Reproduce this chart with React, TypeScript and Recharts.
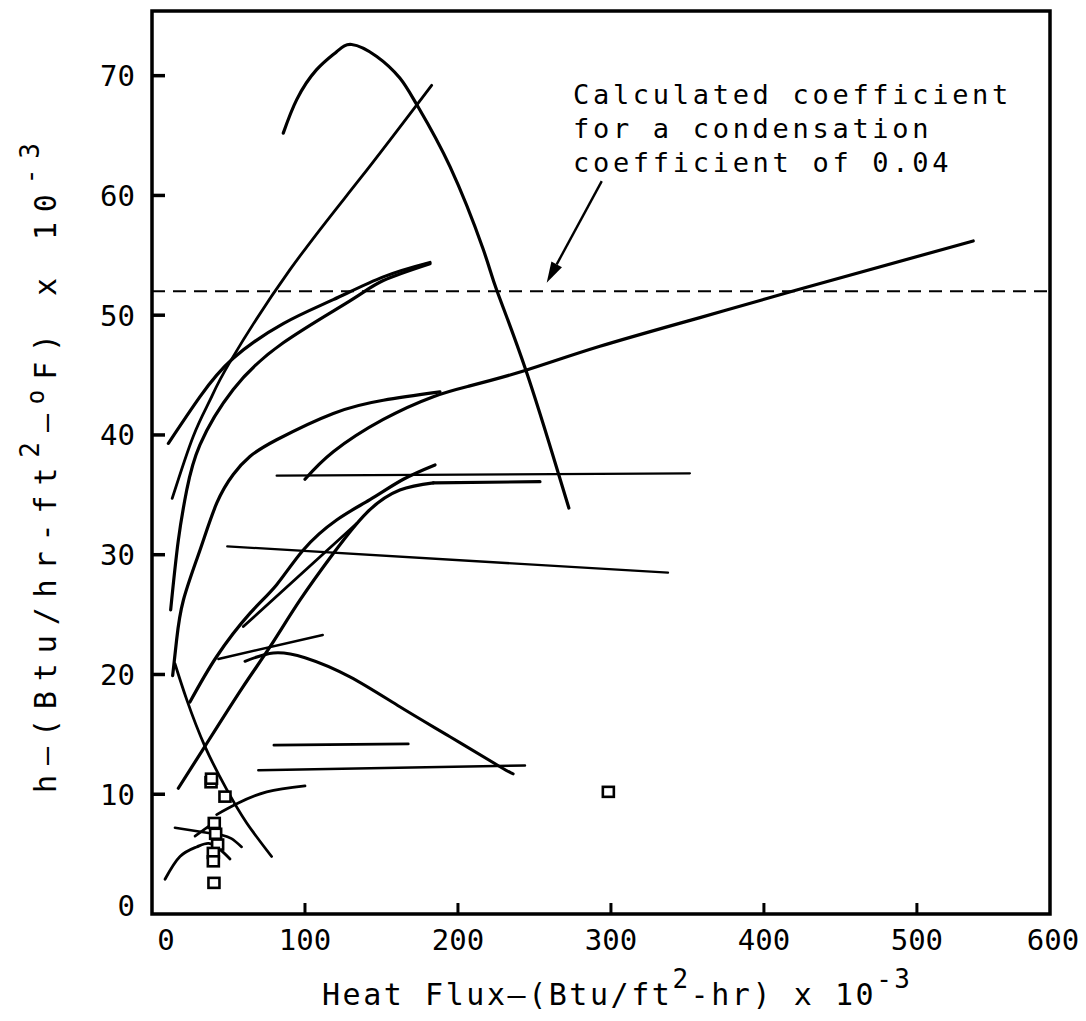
import React from 'react';
import {
  ComposedChart,
  Line,
  Scatter,
  XAxis,
  YAxis,
  ReferenceLine,
  ReferenceArea,
  ReferenceDot
} from 'recharts';

const FONT = '"DejaVu Sans Mono", "Liberation Mono", monospace';

// right frame edge; the original drawing labels it 600
const X_MAX = 587;
const Y_MAX = 75.4;

const xTicks = [0, 100, 200, 300, 400, 500, X_MAX];
const xTickLabels = ['0', '100', '200', '300', '400', '500', '600'];
const yTicks = [0, 10, 20, 30, 40, 50, 60, 70];

const calcCoefficient = 52;
const arrowFrom = { x: 294, y: 61.2 };
const arrowTo = { x: 258, y: 52.7 };
const noteAt = { x: 275.2, y: 67.6 };
const noteLines = ['Calculated coefficient', 'for a condensation', 'coefficient of 0.04'];

type Pt = [number, number];

const peakArc: Pt[] = [[85.8, 65.2], [94.6, 68.0], [107.6, 70.5], [120.7, 72.0], [130.5, 72.6], [146.9, 71.6], [162, 69.8], [173, 67.6], [194.8, 62.4], [216.5, 55.5], [225.3, 52.1], [244.4, 45.4], [265.6, 36.8], [272.5, 33.9]];
const steepLine: Pt[] = [[13.2, 34.7], [27, 39.9], [37.9, 42.9], [51, 46.1], [90.2, 53.8], [136, 61.4], [182.8, 69.2]];
const upperPair: Pt[] = [[10.7, 39.3], [31.4, 43.2], [53.1, 46.4], [85.8, 49.3], [118.5, 51.3], [151.2, 53.2], [181.7, 54.4]];
const lowerPair: Pt[] = [[12.2, 25.4], [17.2, 31.2], [22.7, 35.4], [31.4, 39.2], [53.1, 43.8], [85.8, 47.7], [129.4, 51.2], [151.2, 52.9], [181.7, 54.3]];
const curve43: Pt[] = [[13.5, 19.9], [16.1, 22.9], [20.5, 26.2], [31.4, 30.4], [42.3, 34.3], [53.1, 36.7], [64, 38.2], [81.5, 39.6], [118.5, 41.8], [151.2, 42.9], [188.2, 43.6]];
const falling: Pt[] = [[15, 20.9], [22.7, 17.9], [34.6, 14], [48.8, 10.4], [61.9, 7.6], [78.2, 4.8]];
const curve37: Pt[] = [[24.8, 17.7], [42.3, 21.5], [64, 25.1], [81.5, 27.5], [98.9, 30.4], [120.7, 32.9], [142.5, 34.6], [164.3, 36.3], [185, 37.5]];
const short32: Pt[] = [[59.7, 24], [133.8, 32.6]];
const sCurve: Pt[] = [[17.2, 10.5], [34.6, 14], [58.6, 18.8], [77.1, 22.3], [96.7, 26.2], [118.5, 30.1], [140.3, 33.5], [162, 35.4], [183.9, 36]];
const sCurveFlat: Pt[] = [[183.9, 36], [253.6, 36.1]];
const flat30: Pt[] = [[49.2, 30.7], [337.3, 28.5]];
const flat36: Pt[] = [[81.5, 36.6], [351.6, 36.8]];
const longRise: Pt[] = [[100, 36.3], [118.5, 38.6], [151.2, 41.3], [183.9, 43.2], [207.8, 44.1], [244.4, 45.4], [292.8, 47.4], [358.2, 49.8], [421.4, 52.1], [536.8, 56.2]];
const short22: Pt[] = [[43.4, 21.3], [111.6, 23.3]];
const hump: Pt[] = [[60.8, 21.1], [79.3, 21.8], [100, 21.4], [129.4, 19.8], [162, 17.3], [194.8, 14.8], [227.5, 12.3], [236.1, 11.7]];
const flat14: Pt[] = [[79.7, 14.1], [167.5, 14.2]];
const flat12: Pt[] = [[69.5, 12.0], [243.8, 12.4]];
const curve10: Pt[] = [[42.3, 8.3], [55.4, 9.2], [75, 10.2], [100, 10.7]];
const flat7: Pt[] = [[15, 7.2], [40.1, 6.7]];
const tick7: Pt[] = [[28.1, 6.5], [37.9, 7.4]];
const dome: Pt[] = [[8.5, 2.9], [18.3, 4.8], [29.2, 5.6], [37, 5.9], [44.4, 5.4], [51, 4.6]];
const smallArc: Pt[] = [[45.5, 6.6], [52, 6.3], [58.6, 5.6]];

const squarePts: Pt[] = [[38.6, 11.0], [38.9, 11.3], [47.7, 9.8], [40.7, 7.6], [41.6, 6.7], [42.9, 5.8], [40.1, 5.1], [40.1, 4.4], [40.5, 2.6], [298.3, 10.2]];

const toRows = (pts: Pt[]) => pts.map(([x, y]) => ({ x, y }));

const series: { pts: Pt[]; type: 'natural' | 'linear'; w: number }[] = [
  { pts: peakArc, type: 'natural', w: 3.2 },
  { pts: steepLine, type: 'natural', w: 2.8 },
  { pts: upperPair, type: 'natural', w: 3.2 },
  { pts: lowerPair, type: 'natural', w: 3.2 },
  { pts: curve43, type: 'natural', w: 3.2 },
  { pts: falling, type: 'natural', w: 2.8 },
  { pts: curve37, type: 'natural', w: 3.2 },
  { pts: short32, type: 'linear', w: 2.8 },
  { pts: sCurve, type: 'natural', w: 3.2 },
  { pts: sCurveFlat, type: 'linear', w: 3.2 },
  { pts: flat30, type: 'linear', w: 2.3 },
  { pts: flat36, type: 'linear', w: 2.3 },
  { pts: longRise, type: 'natural', w: 3.2 },
  { pts: short22, type: 'linear', w: 2.5 },
  { pts: hump, type: 'natural', w: 3 },
  { pts: flat14, type: 'linear', w: 2.8 },
  { pts: flat12, type: 'linear', w: 2.5 },
  { pts: curve10, type: 'natural', w: 2.8 },
  { pts: flat7, type: 'linear', w: 2.6 },
  { pts: tick7, type: 'linear', w: 2.6 },
  { pts: dome, type: 'natural', w: 2.8 },
  { pts: smallArc, type: 'natural', w: 2.6 }
];

const XTick = (props: any) => {
  const { x, y, payload } = props;
  const v = payload.value;
  const i = xTicks.indexOf(v);
  const edge = v === 0 || v === X_MAX;
  const shift = v === 0 ? 14 : v === X_MAX ? 3 : 0;
  return (
    <g>
      {!edge && <line x1={x} x2={x} y1={y} y2={y - 11} stroke="#000" strokeWidth={3} />}
      <text x={x + shift} y={y + 36} textAnchor="middle" fontFamily={FONT} fontSize={29} fill="#000">
        {xTickLabels[i]}
      </text>
    </g>
  );
};

const YTick = (props: any) => {
  const { x, y, payload } = props;
  const v = payload.value;
  return (
    <g>
      {v !== 0 && <line x1={x} x2={x + 13} y1={y} y2={y} stroke="#000" strokeWidth={3.5} />}
      <text x={x - 17} y={v === 0 ? y - 8 : y} dy="0.36em" textAnchor="end" fontFamily={FONT} fontSize={29} fill="#000">
        {v}
      </text>
    </g>
  );
};

const XTitle = (props: any) => {
  const vb = props.viewBox || { x: 144, y: 906 };
  return (
    <text x={vb.x + 170} y={vb.y + 91} fontFamily={FONT} fontSize={30} fill="#000" textLength={588} lengthAdjust="spacing">
      Heat Flux—(Btu/ft<tspan dy={-17} fontSize={26}>2</tspan>
      <tspan dy={17}>-hr) x 10</tspan>
      <tspan dy={-17} fontSize={26}>-3</tspan>
    </text>
  );
};

const YTitle = (props: any) => {
  const vb = props.viewBox || { x: 64, y: 3, height: 903 };
  const cx = vb.x - 16;
  const cy = vb.y + 457;
  return (
    <text x={cx} y={cy} transform={`rotate(-90 ${cx} ${cy})`} textAnchor="middle" fontFamily={FONT} fontSize={30} fill="#000" textLength={650} lengthAdjust="spacing">
      h—(Btu/hr-ft<tspan dy={-17} fontSize={26}>2</tspan>
      <tspan dy={17}>—</tspan>
      <tspan dy={-12} fontSize={24}>o</tspan>
      <tspan dy={12}>F) x 10</tspan>
      <tspan dy={-17} fontSize={26}>-3</tspan>
    </text>
  );
};

const Arrow = (p: any) => {
  const { x1, y1, x2, y2 } = p;
  if ([x1, y1, x2, y2].some((n) => typeof n !== 'number')) return <g />;
  const ang = Math.atan2(y2 - y1, x2 - x1);
  const L = 21;
  const W = 6;
  const bx = x2 - L * Math.cos(ang);
  const by = y2 - L * Math.sin(ang);
  const nx = -Math.sin(ang) * W;
  const ny = Math.cos(ang) * W;
  return (
    <g>
      <line x1={x1} y1={y1} x2={bx} y2={by} stroke="#000" strokeWidth={2.4} />
      <polygon points={`${x2},${y2} ${bx + nx},${by + ny} ${bx - nx},${by - ny}`} fill="#000" />
    </g>
  );
};

const Note = (p: any) => (
  <text x={p.cx} y={p.cy} fontFamily={FONT} fontSize={27} letterSpacing={3.7} fill="#000">
    {noteLines.map((l, i) => (
      <tspan key={l} x={p.cx} dy={i === 0 ? 0 : 34}>
        {l}
      </tspan>
    ))}
  </text>
);

const Square = (p: any) => (
  <rect x={p.cx - 5.5} y={p.cy - 5} width={11} height={10} fill="#fff" stroke="#000" strokeWidth={2.6} />
);

export default function App() {
  return (
    <div style={{ width: 1070, height: 1013, background: '#fff' }}>
      <ComposedChart width={1070} height={1013} margin={{ top: 3, right: 28, bottom: 8, left: 64 }}>
        <XAxis
          type="number"
          dataKey="x"
          domain={[0, X_MAX]}
          ticks={xTicks}
          interval={0}
          tickSize={0}
          tickMargin={0}
          axisLine={false}
          tickLine={false}
          tick={<XTick />}
          height={99}
          allowDataOverflow
          label={{ content: <XTitle /> }}
        />
        <YAxis
          type="number"
          dataKey="y"
          domain={[0, Y_MAX]}
          ticks={yTicks}
          interval={0}
          tickSize={0}
          tickMargin={0}
          axisLine={false}
          tickLine={false}
          tick={<YTick />}
          width={80}
          allowDataOverflow
          label={{ content: <YTitle /> }}
        />
        <ReferenceArea x1={0} x2={X_MAX} y1={0} y2={Y_MAX} fill="none" stroke="#000" strokeWidth={3.5} />
        <ReferenceLine y={calcCoefficient} stroke="#000" strokeWidth={2} strokeDasharray="13 8" />
        <ReferenceLine segment={[arrowFrom, arrowTo]} shape={<Arrow />} />
        <ReferenceDot x={noteAt.x} y={noteAt.y} r={0} shape={<Note />} />
        {series.map((s, i) => (
          <Line
            key={i}
            data={toRows(s.pts)}
            dataKey="y"
            type={s.type}
            stroke="#000"
            strokeWidth={s.w}
            strokeLinecap="round"
            dot={false}
            activeDot={false}
            isAnimationActive={false}
          />
        ))}
        <Scatter data={toRows(squarePts)} dataKey="y" shape={<Square />} isAnimationActive={false} />
      </ComposedChart>
    </div>
  );
}
